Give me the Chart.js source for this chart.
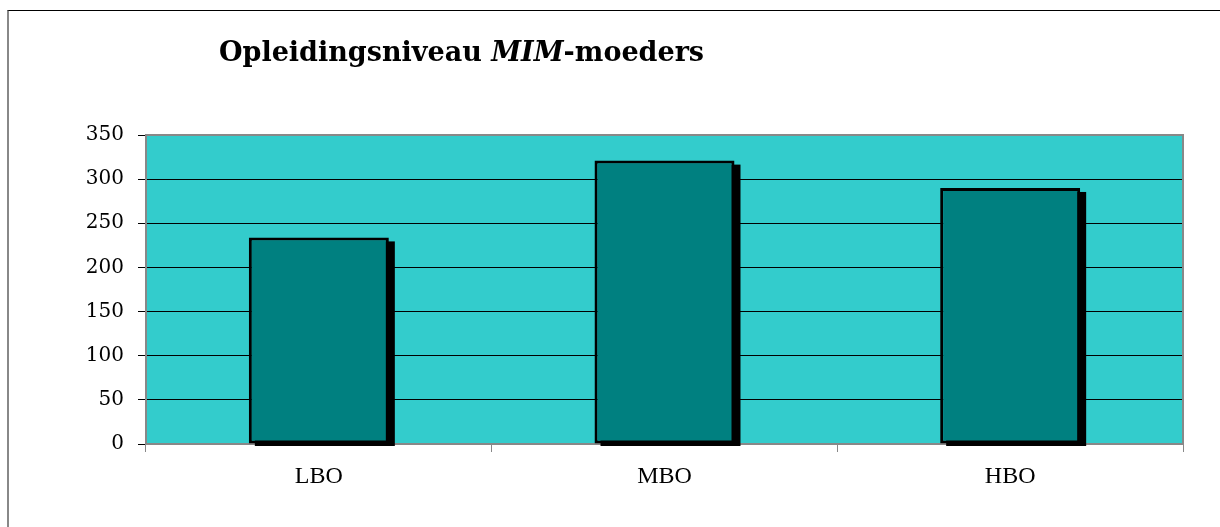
<!DOCTYPE html>
<html>
<head>
<meta charset="utf-8">
<script src="https://cdn.jsdelivr.net/npm/chart.js@4.4.1/dist/chart.umd.min.js"></script>
<style>
  body { margin: 0; background: #fff; }
  #wrap { position: relative; width: 1220px; height: 527px; }
  #frame {
    position: absolute; left: 7px; top: 10px; width: 1220px; height: 530px;
    border-top: 1px solid #000; border-left: 2px solid #888;
  }
  canvas { position: absolute; left: 0; top: 0; }
</style>
</head>
<body>
<div id="wrap">
  <div id="frame"></div>
  <canvas id="levelChart" width="1220" height="527"></canvas>
</div>
<script>
// education level of MIM mothers

const categories = ['LBO', 'MBO', 'HBO'];
const counts = [234, 321, 290];
const yTicks = [0, 50, 100, 150, 200, 250, 300, 350];

// title pieces, the middle one in italics
const titleParts = [
    { text: 'Opleidingsniveau ', italic: false },
    { text: 'MIM', italic: true },
    { text: '-moeders', italic: false }
];

// cyan plot background, grey border round the plot
const plotBackground = {
    id: 'plotBackground',
    beforeDraw(chart) {
        const { ctx, chartArea: a } = chart;
        ctx.save();
        ctx.fillStyle = '#33CCCC';
        ctx.fillRect(a.left, a.top, a.right - a.left, a.bottom - a.top);
        ctx.restore();
    },
    afterDraw(chart) {
        const { ctx, chartArea: a } = chart;
        ctx.save();
        ctx.strokeStyle = '#888';
        ctx.lineWidth = 2;
        ctx.beginPath();
        ctx.moveTo(a.left, a.bottom);
        ctx.lineTo(a.left, a.top);
        ctx.lineTo(a.right, a.top);
        ctx.lineTo(a.right, a.bottom);
        ctx.stroke();
        ctx.restore();
    }
};

// black drop shadow behind each bar (the bar element clips its own shadow)
const barShadow = {
    id: 'barShadow',
    beforeDatasetsDraw(chart) {
        const { ctx, chartArea: a } = chart;
        const meta = chart.getDatasetMeta(0);
        ctx.save();
        ctx.beginPath();
        ctx.rect(a.left, a.top, a.right - a.left, a.bottom - a.top + 2);
        ctx.clip();
        ctx.fillStyle = '#000';
        meta.data.forEach(bar => {
            const left = bar.x - bar.width / 2;
            ctx.fillRect(left + 6, bar.y + 4, bar.width, bar.base - bar.y);
        });
        ctx.restore();
    }
};

// title with mixed bold / bold italic
const mixedTitle = {
    id: 'mixedTitle',
    afterDraw(chart) {
        const ctx = chart.ctx;
        ctx.save();
        ctx.fillStyle = '#000';
        ctx.textBaseline = 'alphabetic';
        let x = 219;
        titleParts.forEach(p => {
            ctx.font = (p.italic ? 'italic ' : '') + 'bold 27px "DejaVu Serif"';
            ctx.fillText(p.text, x, 61);
            x += ctx.measureText(p.text).width;
        });
        ctx.restore();
    }
};

const ctx = document.getElementById('levelChart').getContext('2d');
const levelChart = new Chart(ctx, {
    type: 'bar',
    data: {
        labels: categories,
        datasets: [{
            data: counts,
            backgroundColor: '#008080',
            borderColor: '#000',
            borderWidth: 3,
            borderSkipped: false,
            categoryPercentage: 0.405,
            barPercentage: 1
        }]
    },
    options: {
        responsive: false,
        animation: false,
        layout: {
            padding: { top: 135, right: 37, left: 0, bottom: 0 }
        },
        plugins: {
            legend: { display: false },
            title: { display: false },
            tooltip: { enabled: false }
        },
        scales: {
            x: {
                offset: true,
                grid: {
                    display: true,
                    drawOnChartArea: false,
                    color: '#888',
                    tickLength: 8,
                    offset: true
                },
                border: { color: '#888', width: 2 },
                ticks: {
                    color: '#000',
                    padding: 10,
                    font: { family: '"Liberation Serif"', size: 24 }
                },
                afterFit(scale) { scale.height = 83; }
            },
            y: {
                min: 0,
                max: 350,
                afterBuildTicks(scale) {
                    scale.ticks = yTicks.map(v => ({ value: v }));
                },
                grid: {
                    color: '#000',
                    lineWidth: 1,
                    tickLength: 8,
                    tickColor: '#000'
                },
                border: { color: '#888', width: 2 },
                ticks: {
                    color: '#000',
                    padding: 14,
                    font: { family: '"DejaVu Serif"', size: 20 }
                },
                afterFit(scale) { scale.width = 146; }
            }
        }
    },
    plugins: [plotBackground, barShadow, mixedTitle]
});
</script>
</body>
</html>
